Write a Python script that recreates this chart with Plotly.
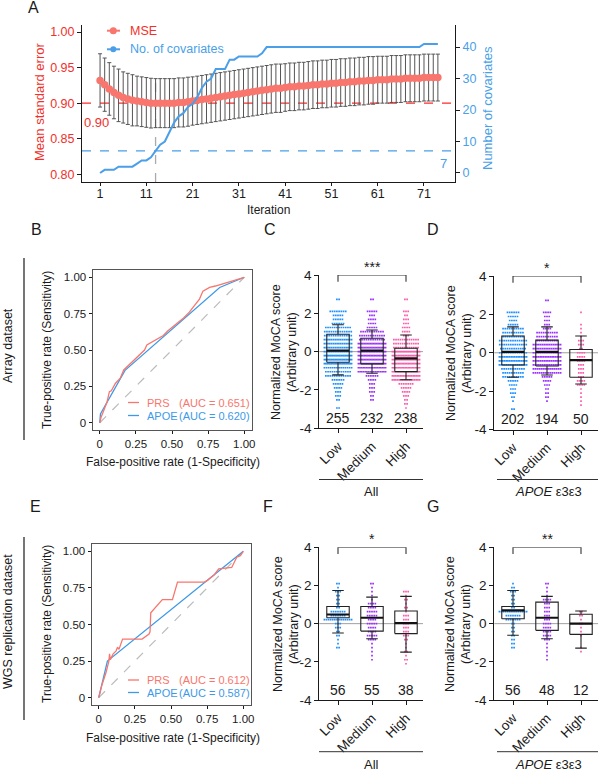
import plotly.graph_objects as go

# ======================= DATA =======================
# Panel A
iterations = list(range(1, 75))
mse = [
    0.932, 0.926, 0.920, 0.915, 0.911, 0.908, 0.906, 0.904, 0.903, 0.902,
    0.901, 0.900, 0.900, 0.900, 0.900, 0.900, 0.900, 0.901, 0.901, 0.902,
    0.903, 0.904, 0.905, 0.906, 0.907, 0.908, 0.909, 0.910, 0.911, 0.912,
    0.913, 0.914, 0.915, 0.916, 0.917, 0.918, 0.919, 0.920, 0.921, 0.921,
    0.922, 0.923, 0.923, 0.924, 0.924, 0.925, 0.926, 0.926, 0.927, 0.927,
    0.928, 0.928, 0.929, 0.929, 0.930, 0.930, 0.931, 0.931, 0.932, 0.932,
    0.933, 0.933, 0.933, 0.934, 0.934, 0.934, 0.935, 0.935, 0.935, 0.935,
    0.936, 0.936, 0.936, 0.936]
mse_sd = [
    0.0375, 0.0375, 0.037, 0.037, 0.037, 0.036, 0.036, 0.036, 0.035, 0.035,
    0.035, 0.035, 0.0345, 0.0345, 0.0345, 0.0345, 0.0345, 0.0345, 0.0345, 0.0345,
    0.034, 0.034, 0.034, 0.034, 0.034, 0.034, 0.034, 0.034, 0.034, 0.034,
    0.034, 0.034, 0.034, 0.034, 0.034, 0.034, 0.034, 0.034, 0.034, 0.034,
    0.0335, 0.0335, 0.0335, 0.0335, 0.0335, 0.0335, 0.0335, 0.0335, 0.0335, 0.0335,
    0.0335, 0.0335, 0.0335, 0.0335, 0.0335, 0.0335, 0.0335, 0.0335, 0.0335, 0.0335,
    0.033, 0.033, 0.033, 0.033, 0.033, 0.033, 0.033, 0.033, 0.033, 0.033,
    0.033, 0.033, 0.033, 0.033]
n_covariates = [
    0, 1, 1, 1, 2, 2, 2, 2, 3, 4,
    4, 5, 7, 9, 10, 13, 16, 18, 19, 21,
    22, 24, 27, 29, 30, 33, 33, 33, 36, 36,
    37, 37, 37, 37, 37, 38, 40, 40, 40, 40,
    40, 40, 40, 40, 40, 40, 40, 40, 40, 40,
    40, 40, 40, 40, 40, 40, 40, 40, 40, 40,
    40, 40, 40, 40, 40, 40, 40, 40, 40, 40,
    41, 41, 41, 41]
mse_threshold = 0.90
cov_threshold = 7
best_iteration = 13
iter_ticks = [1, 11, 21, 31, 41, 51, 61, 71]
mse_ticks = [0.80, 0.85, 0.90, 0.95, 1.00]
cov_ticks = [0, 10, 20, 30, 40]

# ROC panels
roc_ticks = [0, 0.25, 0.5, 0.75, 1.0]
roc_ticktext = ["0", "0.25", "0.50", "0.75", "1.00"]
chance = [0, 1]
B_prs_fpr = [0, 0.01, 0.03, 0.05, 0.067, 0.08, 0.108, 0.142, 0.166, 0.19, 0.211, 0.25,
             0.28, 0.31, 0.326, 0.36, 0.40, 0.44, 0.47, 0.50, 0.554, 0.58, 0.62, 0.66,
             0.69, 0.714, 0.76, 0.80, 0.85, 0.897, 0.95, 1.0]
B_prs_tpr = [0, 0.04, 0.09, 0.14, 0.214, 0.22, 0.27, 0.306, 0.363, 0.385, 0.409, 0.44,
             0.47, 0.50, 0.534, 0.555, 0.575, 0.60, 0.63, 0.655, 0.694, 0.72, 0.76, 0.81,
             0.85, 0.905, 0.93, 0.94, 0.955, 0.968, 0.985, 1.0]
B_apoe_fpr = [0, 0.005, 0.175, 0.83, 1.0]
B_apoe_tpr = [0, 0.06, 0.36, 0.93, 1.0]
E_prs_fpr = [0, 0.02, 0.05, 0.07, 0.075, 0.08, 0.10, 0.12, 0.13, 0.14, 0.165, 0.30, 0.348,
             0.355, 0.36, 0.44, 0.51, 0.545, 0.73, 0.75, 0.80, 0.83, 0.92, 0.955, 0.98, 1.0]
E_prs_tpr = [0, 0.08, 0.17, 0.25, 0.30, 0.26, 0.30, 0.32, 0.345, 0.33, 0.40, 0.40, 0.435,
             0.45, 0.58, 0.67, 0.67, 0.79, 0.79, 0.80, 0.84, 0.88, 0.89, 0.96, 0.97, 1.0]
E_apoe_fpr = [0, 0.06, 1.0]
E_apoe_tpr = [0, 0.25, 1.0]
B_auc = ["0.651", "0.620"]
E_auc = ["0.612", "0.587"]

# Box/dot panels
categories = ["Low", "Medium", "High"]
box_yticks = [-4, -2, 0, 2, 4]
score_levels = [2.73, 2.52, 2.31, 2.10, 1.89, 1.68, 1.47, 1.26, 1.05, 0.84, 0.63, 0.42, 0.21,
                0.00, -0.21, -0.42, -0.63, -0.84, -1.05, -1.26, -1.47, -1.68, -1.89, -2.10,
                -2.31, -2.52, -2.73, -2.94]

C_n = [255, 232, 238]
C_lo = [-1.21, -1.13, -1.47]
C_q1 = [-0.55, -0.64, -1.04]
C_med = [0.05, 0.05, -0.35]
C_q3 = [0.91, 0.70, 0.18]
C_hi = [1.40, 1.13, 0.87]
C_counts = [
    [2, 0, 0, 8, 5, 5, 6, 12, 13, 13, 16, 16, 16, 16, 22, 21, 21, 14, 12, 12, 6, 5, 4, 3, 3, 2, 0, 2],
    [2, 0, 0, 5, 3, 4, 4, 5, 11, 12, 12, 19, 19, 20, 20, 19, 19, 18, 17, 6, 4, 3, 3, 3, 2, 2, 0, 0],
    [2, 0, 0, 3, 2, 3, 3, 4, 4, 3, 12, 12, 12, 20, 20, 19, 20, 20, 20, 18, 17, 7, 5, 4, 3, 2, 2, 1]]

D_n = [202, 194, 50]
D_lo = [-1.28, -1.16, -1.63]
D_q1 = [-0.64, -0.69, -1.28]
D_med = [0.05, 0.05, -0.38]
D_q3 = [0.87, 0.66, 0.17]
D_hi = [1.35, 1.35, 0.87]
D_counts = [
    [0, 0, 0, 6, 5, 4, 5, 10, 10, 10, 13, 13, 12, 13, 17, 17, 16, 11, 10, 10, 5, 4, 3, 3, 2, 1, 0, 2],
    [2, 0, 0, 4, 3, 3, 3, 4, 10, 10, 10, 16, 16, 16, 17, 16, 16, 15, 14, 5, 4, 3, 2, 2, 2, 1, 0, 0],
    [0, 0, 0, 1, 0, 0, 1, 1, 1, 1, 3, 3, 2, 4, 4, 4, 3, 3, 3, 3, 4, 4, 1, 1, 1, 1, 1, 0]]

F_n = [56, 55, 38]
F_lo = [-0.49, -0.79, -1.49]
F_q1 = [0.31, -0.39, -0.52]
F_med = [0.48, 0.31, 0.03]
F_q3 = [0.90, 0.90, 0.66]
F_hi = [1.74, 1.39, 1.43]
F_counts = [
    [0, 0, 0, 2, 1, 3, 2, 2, 2, 2, 7, 7, 14, 3, 3, 2, 2, 1, 1, 2, 0, 0, 0, 0, 0, 0, 0, 0],
    [0, 0, 0, 2, 1, 1, 1, 1, 4, 4, 5, 5, 4, 5, 4, 4, 5, 4, 1, 1, 1, 1, 1, 0, 0, 0, 0, 0],
    [0, 0, 0, 0, 0, 3, 1, 2, 1, 2, 1, 3, 3, 3, 3, 3, 3, 2, 1, 1, 2, 1, 2, 1, 0, 0, 0, 0]]

G_n = [56, 48, 12]
G_lo = [-0.61, -0.79, -1.28]
G_q1 = [0.26, -0.35, -0.56]
G_med = [0.70, 0.31, 0.00]
G_q3 = [0.90, 1.13, 0.49]
G_hi = [1.74, 1.43, 0.66]
G_counts = [
    [0, 0, 0, 1, 2, 3, 2, 2, 2, 2, 14, 7, 7, 2, 2, 2, 2, 2, 2, 2, 0, 0, 0, 0, 0, 0, 0, 0],
    [0, 0, 0, 2, 1, 1, 1, 4, 3, 3, 3, 3, 3, 4, 4, 4, 4, 3, 1, 1, 1, 1, 1, 0, 0, 0, 0, 0],
    [0, 0, 0, 0, 0, 0, 0, 0, 0, 0, 2, 2, 1, 2, 1, 1, 1, 0, 0, 1, 1, 0, 0, 0, 0, 0, 0, 0]]

sig_C, sig_D, sig_F, sig_G = "***", "*", "*", "**"

# ======================= STYLE / LAYOUT =======================
W, H = 600, 771
FONT = "Liberation Sans, Arial, sans-serif"
MSE_COL = "#F8766D"
RED_TXT = "#F2302B"
BLUE = "#4A9FE8"
PRS_COL = "#F8766D"
APOE_COL = "#3D9AE8"
GROUP_COLS = ["#1E90FF", "#9B30FF", "#FF5AAA"]
INK = "#1a1a1a"


def fx(p):
    return p / W


def fy(p):
    return 1 - p / H


fig = go.Figure()
shapes = []
ann = []


def text(x, y, s, size=12.0, color=INK, xanchor="center", yanchor="middle", angle=0):
    ann.append(dict(x=fx(x), y=fy(y), xref="paper", yref="paper", text=s, showarrow=False,
                    font=dict(size=size, color=color, family=FONT), xanchor=xanchor,
                    yanchor=yanchor, textangle=angle))


def pline(x0, y0, x1, y1, color=INK, width=1.0, dash=None):
    d = dict(type="line", xref="paper", yref="paper", x0=fx(x0), y0=fy(y0), x1=fx(x1), y1=fy(y1),
             line=dict(color=color, width=width))
    if dash:
        d["line"]["dash"] = dash
    shapes.append(d)


layout = dict(width=W, height=H, margin=dict(l=0, r=0, t=0, b=0, pad=0, autoexpand=False),
              paper_bgcolor="white", plot_bgcolor="white", showlegend=False,
              font=dict(family=FONT, color=INK))

base_axis = dict(showgrid=False, zeroline=False, showline=True, linecolor=INK, linewidth=1,
                 ticks="outside", tickcolor=INK, ticklen=4, tickwidth=1, automargin=False)

# ---------------- Panel A ----------------
layout["xaxis"] = dict(base_axis, domain=[fx(82), fx(455)], range=[-2.9, 77.7], anchor="y",
                       tickvals=iter_ticks, ticklen=3, ticklabelstandoff=-3,
                       tickfont=dict(size=12.5, color=INK))
layout["yaxis"] = dict(base_axis, domain=[fy(182), fy(25)], range=[0.789, 1.01], anchor="x",
                       tickvals=mse_ticks, ticktext=["%.2f" % v for v in mse_ticks],
                       tickfont=dict(size=12.5, color=RED_TXT))
layout["yaxis2"] = dict(base_axis, overlaying="y", side="right", anchor="x", range=[-2.86, 47],
                        tickvals=cov_ticks, tickfont=dict(size=12.5, color=BLUE))

fig.add_trace(go.Scatter(x=iterations, y=mse, mode="lines+markers", xaxis="x", yaxis="y",
                         marker=dict(size=7.5, color=MSE_COL), line=dict(color=MSE_COL, width=2),
                         error_y=dict(type="data", array=mse_sd, color="#555", thickness=1, width=2)))
fig.add_trace(go.Scatter(x=iterations, y=n_covariates, mode="lines", xaxis="x", yaxis="y2",
                         line=dict(color=BLUE, width=2)))

shapes.append(dict(type="line", xref="x domain", yref="y", x0=0, x1=1, y0=mse_threshold,
                   y1=mse_threshold, line=dict(color="#FF2A2A", width=1.3, dash="dash"), layer="below"))
shapes.append(dict(type="line", xref="x domain", yref="y2", x0=0, x1=1, y0=cov_threshold,
                   y1=cov_threshold, line=dict(color=BLUE, width=1.3, dash="dash"), layer="below"))
bi = iterations.index(best_iteration)
shapes.append(dict(type="line", xref="x", yref="y", x0=best_iteration, x1=best_iteration,
                   y0=0.789, y1=mse[bi] + mse_sd[bi], line=dict(color="#AAAAAA", width=1.3, dash="dash"),
                   layer="below"))

text(97, 123, "%.2f" % mse_threshold, 13, RED_TXT)
text(443, 163, str(cov_threshold), 13, BLUE)
text(40, 102, "Mean standard error", 13, RED_TXT, angle=-90)
text(488, 108, "Number of covariates", 13, BLUE, angle=-90)
text(268, 210, "Iteration", 12)
# legend A
pline(107, 30.7, 120, 30.7, MSE_COL, 2)
shapes.append(dict(type="circle", xref="paper", yref="paper", x0=fx(109.8), x1=fx(116.8),
                   y0=fy(34.2), y1=fy(27.2), fillcolor=MSE_COL, line=dict(width=0)))
text(128, 30.7, "MSE", 12.5, RED_TXT, xanchor="left")
pline(107, 49.3, 120, 49.3, BLUE, 2)
shapes.append(dict(type="circle", xref="paper", yref="paper", x0=fx(110.3), x1=fx(116.3),
                   y0=fy(52.3), y1=fy(46.3), fillcolor=BLUE, line=dict(width=0)))
text(128, 49.3, "No. of covariates", 12.5, BLUE, xanchor="left")

# ---------------- ROC panels ----------------
roc_axis = dict(base_axis, range=[-0.05, 1.05], tickvals=roc_ticks, ticktext=roc_ticktext,
                mirror=True, linecolor="#555", ticklen=3, tickfont=dict(size=11.5, color=INK))


def roc_panel(xa, ya, xdom, ydom, prs_f, prs_t, apoe_f, apoe_t, aucs, legy, ylab_y, xlab_y):
    layout["xaxis" + xa[1:]] = dict(roc_axis, domain=[fx(xdom[0]), fx(xdom[1])], anchor=ya)
    layout["yaxis" + ya[1:]] = dict(roc_axis, domain=[fy(ydom[1]), fy(ydom[0])], anchor=xa)
    fig.add_trace(go.Scatter(x=chance, y=chance, mode="lines", xaxis=xa, yaxis=ya,
                             line=dict(color="#BBBBBB", width=1.2, dash="dash")))
    fig.add_trace(go.Scatter(x=apoe_f, y=apoe_t, mode="lines", xaxis=xa, yaxis=ya,
                             line=dict(color=APOE_COL, width=1.3)))
    fig.add_trace(go.Scatter(x=prs_f, y=prs_t, mode="lines", xaxis=xa, yaxis=ya,
                             line=dict(color=PRS_COL, width=1.3)))
    for k, (nm, col) in enumerate([("PRS", PRS_COL), ("APOE", APOE_COL)]):
        yy = legy[k]
        pline(128, yy, 139, yy, col, 1.3)
        text(145, yy, nm, 11, col, xanchor="left")
        text(177, yy, "(AUC = %s)" % aucs[k], 11, col, xanchor="left")
    text(47, ylab_y, "True-positive rate (Sensitivity)", 12, angle=-90)
    text(173, xlab_y, "False-positive rate (1-Specificity)", 12)


roc_panel("x2", "y3", (92.5, 251.5), (270, 430), B_prs_fpr, B_prs_tpr, B_apoe_fpr, B_apoe_tpr,
          B_auc, (402.5, 415.5), 350, 462)
roc_panel("x3", "y4", (91.5, 250.5), (544, 705), E_prs_fpr, E_prs_tpr, E_apoe_fpr, E_apoe_tpr,
          E_auc, (680, 692.5), 624, 738)

text(8, 346, "Array dataset", 12.5, angle=-90)
pline(24, 258, 24, 440, INK, 1.2)
text(8, 622, "WGS replication dataset", 12.5, angle=-90)
pline(24, 537, 24, 720, INK, 1.2)


# ---------------- Box / dot panels ----------------
def dot_rows(center, counts):
    xs, ys = [], []
    for lvl, n in zip(score_levels, counts):
        if n == 0:
            continue
        step = min(0.065, 0.8 / max(n - 1, 1))
        for i in range(n):
            xs.append(center + (i - (n - 1) / 2) * step)
            ys.append(lvl)
    return xs, ys


def box_panel(xa, ya, xdom, ydom, counts, lo, q1, med, q3, hi, ns, sig):
    xk, yk = "xaxis" + xa[1:], "yaxis" + ya[1:]
    layout[xk] = dict(base_axis, domain=[fx(xdom[0]), fx(xdom[1])], range=[-0.55, 2.5], anchor=ya,
                      tickvals=[0, 1, 2], ticktext=categories, tickangle=-45,
                      tickfont=dict(size=13.5, color=INK))
    layout[yk] = dict(base_axis, domain=[fy(ydom[1]), fy(ydom[0])], range=[-4, 4], anchor=xa,
                      tickvals=box_yticks, ticktext=[str(v) for v in box_yticks],
                      tickfont=dict(size=13.5, color=INK))
    shapes.append(dict(type="line", xref=xa + " domain", yref=ya, x0=0, x1=1.0, y0=0, y1=0,
                       line=dict(color="#A0A0A0", width=1), layer="below"))
    for g in range(3):
        xs, ys = dot_rows(g, counts[g])
        fig.add_trace(go.Scatter(x=xs, y=ys, mode="markers", xaxis=xa, yaxis=ya, hoverinfo="skip",
                                 marker=dict(symbol="square", size=1.7, color=GROUP_COLS[g],
                                             line=dict(width=0))))
    bx, by, mx, my = [], [], [], []
    hw, hc = 0.33, 0.17
    for g in range(3):
        bx += [g - hw, g + hw, g + hw, g - hw, g - hw, None,
               g, g, None, g, g, None,
               g - hc, g + hc, None, g - hc, g + hc, None]
        by += [q1[g], q1[g], q3[g], q3[g], q1[g], None,
               q3[g], hi[g], None, q1[g], lo[g], None,
               hi[g], hi[g], None, lo[g], lo[g], None]
        mx += [g - hw, g + hw, None]
        my += [med[g], med[g], None]
    fig.add_trace(go.Scatter(x=bx, y=by, mode="lines", xaxis=xa, yaxis=ya,
                             line=dict(color="#222", width=1.1)))
    fig.add_trace(go.Scatter(x=mx, y=my, mode="lines", xaxis=xa, yaxis=ya,
                             line=dict(color="#111", width=2.2)))
    shapes.append(dict(type="path", xref=xa, yref=ya,
                       path="M 0,3.65 L 0,4.0 L 2,4.0 L 2,3.65",
                       line=dict(color="#333", width=1.1)))
    ann.append(dict(x=1, y=4.0, xref=xa, yref=ya, text=sig, showarrow=False, yanchor="bottom",
                    yshift=-2, font=dict(size=14, color=INK, family=FONT)))
    for g in range(3):
        ann.append(dict(x=g, y=-3.45, xref=xa, yref=ya, text=str(ns[g]), showarrow=False,
                        font=dict(size=14, color=INK, family=FONT)))


box_panel("x4", "y5", (319.3, 423), (275, 428.3), C_counts, C_lo, C_q1, C_med, C_q3, C_hi, C_n, sig_C)
box_panel("x5", "y6", (494.3, 598), (276, 429.5), D_counts, D_lo, D_q1, D_med, D_q3, D_hi, D_n, sig_D)
box_panel("x6", "y7", (319.3, 423), (547.3, 700), F_counts, F_lo, F_q1, F_med, F_q3, F_hi, F_n, sig_F)
box_panel("x7", "y8", (494.3, 598), (547.3, 700), G_counts, G_lo, G_q1, G_med, G_q3, G_hi, G_n, sig_G)

ylab = "Normalized MoCA score<br>(Arbitrary unit)"
text(284, 352, ylab, 12.6, angle=-90)
text(459, 353, ylab, 12.6, angle=-90)
text(286, 624, ylab, 12.6, angle=-90)
text(458, 624, ylab, 12.6, angle=-90)

pline(319, 479.5, 423, 479.5, "#333", 1)
text(371, 492, "All", 13)
pline(497, 479.5, 598, 479.5, "#333", 1)
text(548, 492, "<i>APOE</i> \u03b53\u03b53", 13)
pline(319, 751.7, 423, 751.7, "#333", 1)
text(371, 764, "All", 13)
pline(497, 751.7, 598, 751.7, "#333", 1)
text(548, 764, "<i>APOE</i> \u03b53\u03b53", 13)

# panel letters
for lt, (lx, ly) in {"A": (33, 8), "B": (36, 229), "C": (270, 229), "D": (433, 229),
                     "E": (35, 506), "F": (268, 506), "G": (433, 506)}.items():
    text(lx, ly, lt, 16)

layout["shapes"] = shapes
layout["annotations"] = ann
fig.update_layout(**layout)
fig.update_traces(showlegend=False)
fig.write_html("out.html", config={"displayModeBar": False},
               post_script="document.body.style.margin='0px';document.body.style.padding='0px';")
